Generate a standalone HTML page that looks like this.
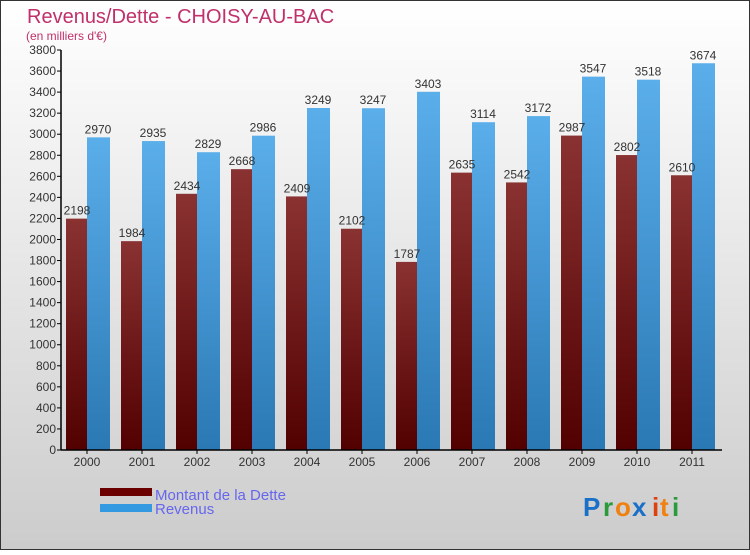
<!DOCTYPE html>
<html><head><meta charset="utf-8"><style>
html,body{margin:0;padding:0;}
body{width:750px;height:550px;overflow:hidden;font-family:"Liberation Sans",sans-serif;}
</style></head><body>
<svg id="chart" width="750" height="550" xmlns="http://www.w3.org/2000/svg">
<defs>
<linearGradient id="bg" x1="0" y1="0" x2="0" y2="1"><stop offset="0" stop-color="#ffffff"/><stop offset="1" stop-color="#cccccc"/></linearGradient>
<linearGradient id="gDebt" x1="0" y1="0" x2="0" y2="1"><stop offset="0" stop-color="#8a3232"/><stop offset="1" stop-color="#520000"/></linearGradient>
<linearGradient id="gRev" x1="0" y1="0" x2="0" y2="1"><stop offset="0" stop-color="#5aaeea"/><stop offset="1" stop-color="#2a78b4"/></linearGradient>
</defs>
<rect x="0.5" y="0.5" width="749" height="549" fill="url(#bg)" stroke="#333"/>
<text x="27" y="23" font-size="20" fill="#c0306a">Revenus/Dette - CHOISY-AU-BAC</text>
<text x="26" y="40" font-size="12" fill="#c0306a">(en milliers d'€)</text>
<g id="plot"></g>
<rect x="100" y="488" width="52" height="8" fill="#6a0000"/>
<rect x="100" y="504" width="52" height="8" fill="#3399e0"/>
<text x="155" y="500" font-size="15" fill="#6666ee">Montant de la Dette</text>
<text x="155" y="514" font-size="15" fill="#6666ee">Revenus</text>
<g font-size="26" font-family="'Liberation Sans',sans-serif" font-weight="bold">
<text x="583" y="516" fill="#1a70c8">P</text><text x="603" y="516" fill="#2a9a3a">r</text><text x="615" y="516" fill="#f08010">o</text><text x="632" y="516" fill="#1a70c8">x</text><text x="652" y="516" fill="#e04010">i</text><text x="660" y="516" fill="#f08010">t</text><text x="672" y="516" fill="#2a9a3a">i</text>
</g>
</svg>
<script>
const years=["2000","2001","2002","2003","2004","2005","2006","2007","2008","2009","2010","2011"];
const debt=[2198,1984,2434,2668,2409,2102,1787,2635,2542,2987,2802,2610];
const revenus=[2970,2935,2829,2986,3249,3247,3403,3114,3172,3547,3518,3674];
const yTicks=[0,200,400,600,800,1000,1200,1400,1600,1800,2000,2200,2400,2600,2800,3000,3200,3400,3600,3800];
const NS="http://www.w3.org/2000/svg";
const g=document.getElementById('plot');
const y=v=>450-v*400/3800;
const xc=i=>87+i*55;
function mk(t,a){const e=document.createElementNS(NS,t);for(const k in a)e.setAttribute(k,a[k]);g.appendChild(e);return e;}
yTicks.forEach(v=>{
 const l=mk('line',{x1:57,x2:61,y1:y(v),y2:y(v),stroke:'#000'});
 
 
 const t=mk('text',{x:56,y:y(v)+4,'text-anchor':'end','font-size':12,fill:'#333'});
 t.textContent=v;
 
 
});
years.forEach((yr,i)=>{
 const c=xc(i);
 const b1=mk('rect',{x:c-21,y:y(debt[i]),width:21,height:450-y(debt[i]),fill:'url(#gDebt)'});
 
 
 const b2=mk('rect',{x:c,y:y(revenus[i]),width:23,height:450-y(revenus[i]),fill:'url(#gRev)'});
 
 
 const l1=mk('text',{x:c-10,y:y(debt[i])-4,'text-anchor':'middle','font-size':12,fill:'#333'});
 l1.textContent=debt[i];
 
 
 const l2=mk('text',{x:c+11,y:y(revenus[i])-4,'text-anchor':'middle','font-size':12,fill:'#333'});
 l2.textContent=revenus[i];
 
 
 const tk=mk('line',{x1:c,x2:c,y1:450,y2:454,stroke:'#000'});
 
 
 const xl=mk('text',{x:c,y:466,'text-anchor':'middle','font-size':12,fill:'#333'});
 xl.textContent=yr;
 
 
});
const ya=mk('line',{x1:61,x2:61,y1:50,y2:450,stroke:'#000','stroke-width':1.5});


const xa=mk('line',{x1:61,x2:722,y1:450,y2:450,stroke:'#000','stroke-width':1.5});


</script>
</body></html>
